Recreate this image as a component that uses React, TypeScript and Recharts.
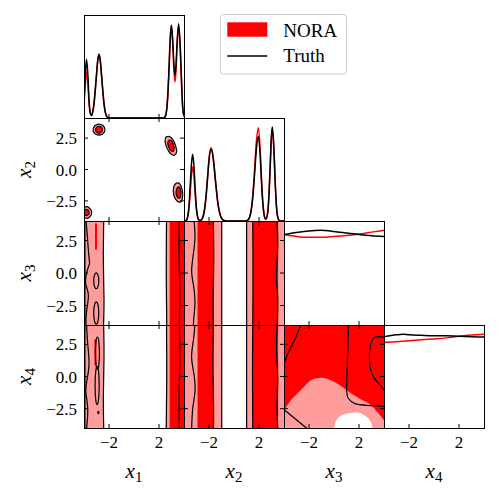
import React from 'react';
import { ComposedChart, Area, Line, XAxis, YAxis, ReferenceLine } from 'recharts';

// axis ranges and ticks
const XLIM: [number, number] = [-4, 4];
const YLIM: [number, number] = [-4, 4];
const Y2_LIM: [number, number] = [-4.1, 4.1];
const PDF_LIM: [number, number] = [0, 1];
const Y_FULL: [number, number] = [-9, 9];
const X_TICKS = [-2, 2];
const Y_TICKS = [-2.5, 0, 2.5];
const PDF_TICKS = [0, 1];
const SUBSCRIPTS = ['1', '2', '3', '4'];

// 1D marginals: [x, NORA, Truth]
const x1Marginal: number[][] = [
  [-4.0, 0.12, 0.15], [-3.9, 0.32, 0.4], [-3.8, 0.45, 0.57], [-3.7, 0.35, 0.44],
  [-3.6, 0.15, 0.18], [-3.5, 0.045, 0.05], [-3.4, 0.025, 0.025], [-3.3, 0.06, 0.06],
  [-3.2, 0.14, 0.14], [-3.1, 0.27, 0.27], [-3.0, 0.42, 0.42], [-2.9, 0.56, 0.56],
  [-2.8, 0.62, 0.618], [-2.7, 0.56, 0.56], [-2.6, 0.42, 0.42], [-2.5, 0.27, 0.27],
  [-2.4, 0.14, 0.14], [-2.3, 0.06, 0.06], [-2.2, 0.02, 0.02], [-2.1, 0.005, 0.005],
  [-1.9, 0, 0], [2.2, 0, 0], [2.4, 0.004, 0.003], [2.5, 0.016, 0.014],
  [2.6, 0.07, 0.065], [2.7, 0.21, 0.21], [2.8, 0.47, 0.48], [2.9, 0.76, 0.78],
  [2.99, 0.9, 0.9], [3.1, 0.72, 0.75], [3.2, 0.46, 0.5], [3.28, 0.35, 0.415],
  [3.35, 0.44, 0.49], [3.45, 0.7, 0.74], [3.57, 0.89, 0.916], [3.7, 0.67, 0.69],
  [3.8, 0.34, 0.37], [3.9, 0.09, 0.1], [4.0, 0.015, 0.02],
];

const x2Marginal: number[][] = [
  [-4.0, 0, 0], [-3.8, 0.008, 0.01], [-3.7, 0.038, 0.047], [-3.6, 0.12, 0.15],
  [-3.5, 0.28, 0.35], [-3.4, 0.45, 0.56], [-3.31, 0.527, 0.648], [-3.2, 0.43, 0.525],
  [-3.1, 0.245, 0.3], [-3.0, 0.1, 0.123], [-2.9, 0.03, 0.036], [-2.8, 0.008, 0.008],
  [-2.7, 0.006, 0.006], [-2.6, 0.013, 0.013], [-2.5, 0.035, 0.035], [-2.4, 0.08, 0.08],
  [-2.3, 0.165, 0.164], [-2.2, 0.29, 0.29], [-2.1, 0.445, 0.44], [-2.0, 0.6, 0.59],
  [-1.84, 0.71, 0.7], [-1.7, 0.65, 0.64], [-1.6, 0.55, 0.54], [-1.5, 0.415, 0.41],
  [-1.4, 0.295, 0.29], [-1.3, 0.185, 0.18], [-1.2, 0.11, 0.107], [-1.1, 0.058, 0.057],
  [-1.0, 0.028, 0.027], [-0.8, 0.005, 0.005], [-0.6, 0, 0], [0.8, 0, 0],
  [1.0, 0.003, 0.003], [1.1, 0.009, 0.008], [1.2, 0.025, 0.023], [1.3, 0.062, 0.056],
  [1.4, 0.13, 0.12], [1.5, 0.25, 0.225], [1.6, 0.41, 0.375], [1.7, 0.61, 0.55],
  [1.8, 0.785, 0.71], [1.95, 0.906, 0.82], [2.1, 0.685, 0.62], [2.2, 0.415, 0.375],
  [2.3, 0.2, 0.18], [2.4, 0.072, 0.065], [2.5, 0.024, 0.022], [2.56, 0.025, 0.018],
  [2.7, 0.083, 0.086], [2.8, 0.253, 0.26], [2.9, 0.536, 0.55], [3.0, 0.82, 0.84],
  [3.07, 0.89, 0.913], [3.2, 0.663, 0.68], [3.3, 0.357, 0.366], [3.4, 0.137, 0.14],
  [3.5, 0.036, 0.037], [3.6, 0.008, 0.008], [3.7, 0.001, 0.001], [4.0, 0, 0],
];

const x3Marginal: number[][] = [
  [-4, 0.87, 0.87], [-3, 0.852, 0.89], [-2, 0.843, 0.905], [-1.1, 0.843, 0.91],
  [0, 0.85, 0.9], [1, 0.86, 0.885], [2, 0.875, 0.87], [3, 0.893, 0.858], [4, 0.91, 0.852],
];

const x4Marginal: number[][] = [
  [-4, 0.833, 0.887], [-3, 0.838, 0.905], [-2.5, 0.842, 0.91], [-2, 0.847, 0.905],
  [-1, 0.857, 0.9], [0, 0.865, 0.896], [1, 0.875, 0.895], [2, 0.89, 0.89],
  [3, 0.902, 0.886], [4, 0.91, 0.884],
];

// x1-x2 blobs: [x1, low x2, high x2]
const blobAOuter = [[-3.27, 3.17, 3.17], [-3.25, 3.04, 3.3], [-3.2, 2.94, 3.4], [-3.05, 2.8, 3.54], [-2.8, 2.73, 3.61], [-2.55, 2.8, 3.54], [-2.4, 2.94, 3.4], [-2.35, 3.04, 3.3], [-2.33, 3.17, 3.17]];
const blobAInner = [[-3.08, 3.17, 3.17], [-3.06, 3.08, 3.26], [-3.0, 2.99, 3.35], [-2.9, 2.92, 3.42], [-2.8, 2.9, 3.44], [-2.7, 2.92, 3.42], [-2.6, 2.99, 3.35], [-2.54, 3.08, 3.26], [-2.52, 3.17, 3.17]];
const blobBOuter = [[2.48, 2.3, 2.3], [2.52, 2.05, 2.5], [2.6, 1.8, 2.6], [2.75, 1.5, 2.64], [2.9, 1.3, 2.58], [3.05, 1.18, 2.45], [3.2, 1.13, 2.22], [3.32, 1.2, 1.92], [3.39, 1.35, 1.65], [3.42, 1.5, 1.5]];
const blobBInner = [[2.7, 2.1, 2.1], [2.74, 1.9, 2.25], [2.82, 1.7, 2.33], [2.92, 1.55, 2.35], [3.02, 1.45, 2.28], [3.12, 1.43, 2.1], [3.19, 1.55, 1.85], [3.22, 1.7, 1.7]];
const blobCOuter = [[3.14, -1.7, -1.7], [3.18, -2.0, -1.4], [3.27, -2.25, -1.2], [3.4, -2.45, -1.08], [3.55, -2.58, -1.07], [3.7, -2.6, -1.2], [3.82, -2.45, -1.5], [3.88, -2.2, -1.8], [3.9, -2.0, -2.0]];
const blobCInner = [[3.36, -1.85, -1.85], [3.4, -2.05, -1.6], [3.48, -2.2, -1.45], [3.58, -2.29, -1.38], [3.67, -2.25, -1.45], [3.73, -2.1, -1.65], [3.76, -1.9, -1.9]];
const blobDOuter = [[-4.0, -3.75, -3.08], [-3.9, -3.86, -2.98], [-3.75, -3.89, -2.96], [-3.6, -3.82, -3.04], [-3.48, -3.7, -3.17], [-3.41, -3.55, -3.3], [-3.38, -3.42, -3.42]];
const blobDInner = [[-3.97, -3.55, -3.3], [-3.9, -3.65, -3.2], [-3.8, -3.68, -3.17], [-3.7, -3.64, -3.22], [-3.62, -3.55, -3.3], [-3.58, -3.42, -3.42]];

// vertical bands [from, to] for x1 and x2 columns
const x1PinkBands = [[-4, -2.42], [2.56, 2.84]];
const x1RedBands = [[-4, -3.85], [2.84, 4]];
const x1x3RedPatches = [[-3.12, -2.96, 1.8, 3.8]];
const x1x4RedPatches = [[-3.16, -3.0, 0.9, 2.9]];
const x2PinkBands = [[-4, -2.93], [-1.65, -0.98], [1.01, 1.5], [3.54, 4]];
const x2RedBands = [[-2.93, -1.65], [1.5, 3.54]];

// Truth contour lines [x, y]
const x1x3TruthLines = [
  [[-3.84, 4.1], [-3.73, 2.8], [-3.6, 1.2], [-3.57, 0.68], [-3.79, 0.02], [-3.85, -0.9], [-3.65, -1.7], [-3.8, -3.0], [-3.84, -4.1]],
  [[-2.42, 4.1], [-2.45, 1], [-2.4, -2], [-2.44, -4.1]],
  [[2.6, 4.1], [2.58, 0], [2.62, -4.1]],
  [[3.63, 4.1], [3.6, 1.5], [3.66, -1], [3.62, -4.1]],
];
const x1x3TruthLoops = [
  [[-3.02, 0.08], [-2.86, -0.12], [-2.8, -0.6], [-2.86, -1.08], [-3.02, -1.28], [-3.18, -1.08], [-3.24, -0.6], [-3.18, -0.12]],
  [[-3.02, -2.13], [-2.86, -2.41], [-2.8, -3.08], [-2.86, -3.75], [-3.02, -4.03], [-3.18, -3.75], [-3.24, -3.08], [-3.18, -2.41]],
];
const x1x4TruthLines = [
  [[-3.8, 4.1], [-3.7, 2.5], [-3.6, 1.0], [-3.75, -0.2], [-3.85, -1.2], [-3.7, -2.5], [-3.8, -4.1]],
  [[-2.43, 4.1], [-2.4, 1.5], [-2.45, -1.5], [-2.42, -4.1]],
  [[2.6, 4.1], [2.62, 0], [2.58, -4.1]],
  [[3.63, 4.1], [3.66, 1], [3.6, -1.5], [3.63, -4.1]],
];
const x1x4TruthLoops = [
  [[-2.93, 3.2], [-2.8, 2.8], [-2.75, 1.82], [-2.8, 0.84], [-2.93, 0.44], [-3.06, 0.84], [-3.11, 1.82], [-3.06, 2.8]],
  [[-2.95, 0.95], [-2.82, 0.47], [-2.77, -0.7], [-2.82, -1.87], [-2.95, -2.35], [-3.08, -1.87], [-3.13, -0.7], [-3.08, 0.47]],
  [[-2.85, -2.66], [-2.78, -2.8], [-2.85, -2.94], [-2.92, -2.8]],
];
const x2x3TruthLines = [
  [[-3.2, 4.1], [-3.12, 2.8], [-3.25, 1.47], [-3.39, 0.15], [-3.25, -0.9], [-3.12, -2.2], [-3.2, -3.29], [-3.25, -4.1]],
  [[-1.65, 4.1], [-1.62, 1], [-1.67, -2], [-1.65, -4.1]],
  [[-0.98, 4.1], [-0.98, -4.1]],
  [[1.01, 4.1], [1.01, -4.1]],
  [[1.5, 4.1], [1.52, 0], [1.5, -4.1]],
  [[3.42, 4.1], [3.5, 2.5], [3.45, 1], [3.4, -0.5], [3.5, -2], [3.46, -4.1]],
];
const x2x4TruthLines = [
  [[-3.12, 4.1], [-3.25, 2.81], [-3.39, 1.49], [-3.2, 0.16], [-3.12, -1.16], [-3.3, -2.48], [-3.39, -4.1]],
  [[-1.65, 4.1], [-1.68, 0.5], [-1.63, -2.5], [-1.65, -4.1]],
  [[-0.98, 4.1], [-0.98, -4.1]],
  [[1.01, 4.1], [1.01, -4.1]],
  [[1.5, 4.1], [1.48, 0], [1.5, -4.1]],
  [[3.46, 4.1], [3.4, 2], [3.5, 0], [3.45, -2], [3.5, -4.1]],
];

// x3-x4 panel: NORA level boundaries [x3, upper x4] and Truth lines
const x3x4PinkTop = [[-4, -2.64], [-3.5, -1.9], [-3, -1.4], [-2.5, -0.9], [-2, -0.4], [-1.5, -0.15], [-1, -0.1], [-0.5, -0.2], [0, -0.4], [0.5, -0.7], [1, -1.05], [1.5, -1.4], [2, -1.68], [2.5, -1.95], [3, -2.25], [3.5, -2.8], [4, -3.4]];
const x3x4WhiteTop = [[0, -4.1], [0.1, -3.6], [0.35, -3.22], [0.6, -3.02], [1.01, -2.9], [1.4, -2.82], [1.81, -2.8], [2.2, -2.88], [2.48, -3.04], [2.7, -3.2], [2.88, -3.43], [3.0, -3.65], [3.1, -4.1]];
const x3x4TruthLines = [
  [[-2.59, 4.1], [-3.25, 2.65], [-3.78, 1.59], [-4.0, 0.93]],
  [[1.15, 4.1], [1.1, 1.86], [1.01, -0.79], [1.15, -1.71], [1.68, -2.11], [2.61, -2.24], [4.0, -2.32]],
  [[4.0, 3.05], [3.28, 3.05], [2.94, 2.52], [2.83, 1.59], [3.01, 0.27], [3.55, -0.52], [4.0, -1.05]],
  [[-4.0, -2.58], [-3.25, -3.17], [-2.18, -4.02]],
];

// layout
const COL_LEFT = [84, 184, 284, 384];
const ROW_EDGES = [15, 118, 221, 325, 428];
const PANEL_W = 100;
const PAD = 2;
const TICK_PX = 4;

const RED = '#ff0000';
const PINK = '#ff9c9c';
const INK = '#000000';
const FONT = '"Liberation Serif", "Times New Roman", serif';

const fmtX = (v: number) => String(v).replace('-', '\u2212');
const fmtY = (v: number) => v.toFixed(1).replace('-', '\u2212');

const xLabel = (show: boolean) => (p: any) =>
  show ? (
    <text x={p.x} y={p.y + 19.5} textAnchor="middle" fontFamily={FONT} fontSize={17} fill={INK}>
      {fmtX(p.payload.value)}
    </text>
  ) : (
    <g />
  );

const yLabel = (show: boolean) => (p: any) =>
  show ? (
    <text x={p.x - 7} y={p.y} dy="0.36em" textAnchor="end" fontFamily={FONT} fontSize={17} fill={INK}>
      {fmtY(p.payload.value)}
    </text>
  ) : (
    <g />
  );

const toPts = (a: number[][]) => a.map(([x, y]) => ({ x, y }));
const toRange = (a: number[][]) => a.map(([x, lo, hi]) => ({ x, r: [lo, hi] }));
const bandData = (b: number[]) => [{ x: b[0], r: Y_FULL }, { x: b[1], r: Y_FULL }];
const patchData = (p: number[]) => [{ x: p[0], r: [p[2], p[3]] }, { x: p[1], r: [p[2], p[3]] }];

const areaEl = (key: string, data: any[], fill: string, stroke = 'none', type: any = 'linear') => (
  <Area key={key} data={data} dataKey="r" type={type} fill={fill} fillOpacity={1} stroke={stroke}
    strokeWidth={1.2} dot={false} activeDot={false} isAnimationActive={false} />
);
const lineEl = (key: string, data: any[], stroke: string, width: number, type: any) => (
  <Line key={key} data={data} dataKey="y" type={type} stroke={stroke} strokeWidth={width}
    dot={false} activeDot={false} isAnimationActive={false} />
);

// inward tick marks, placed through the chart's own scales as short reference segments
const tickMarks = (yDom: [number, number], h: number, diag: boolean) => {
  const dx = (TICK_PX / PANEL_W) * (XLIM[1] - XLIM[0]);
  const dy = (TICK_PX / h) * (yDom[1] - yDom[0]);
  const seg = (key: string, a: { x: number; y: number }, b: { x: number; y: number }) => (
    <ReferenceLine key={key} segment={[a, b]} stroke={INK} strokeWidth={1} ifOverflow="visible" />
  );
  const out = X_TICKS.map((t) => seg(`tb${t}`, { x: t, y: yDom[0] }, { x: t, y: yDom[0] + dy }));
  if (diag) return out;
  return [
    ...out,
    ...X_TICKS.map((t) => seg(`tt${t}`, { x: t, y: yDom[1] }, { x: t, y: yDom[1] - dy })),
    ...Y_TICKS.map((t) => seg(`tl${t}`, { x: XLIM[0], y: t }, { x: XLIM[0] + dx, y: t })),
    ...Y_TICKS.map((t) => seg(`tr${t}`, { x: XLIM[1], y: t }, { x: XLIM[1] - dx, y: t })),
  ];
};

const marginalSeries = (m: number[][], id: string) => [
  lineEl(id + '-nora', m.map((r) => ({ x: r[0], y: r[1] })), RED, 1.5, 'monotone'),
  lineEl(id + '-truth', m.map((r) => ({ x: r[0], y: r[2] })), INK, 1.5, 'monotone'),
];

const stripSeries = (id: string, pink: number[][], red: number[][], patches: number[][], lines: number[][][], loops: number[][][]) => [
  ...pink.map((b, i) => areaEl(`${id}-p${i}`, bandData(b), PINK)),
  ...red.map((b, i) => areaEl(`${id}-r${i}`, bandData(b), RED)),
  ...patches.map((p, i) => areaEl(`${id}-q${i}`, patchData(p), RED)),
  ...lines.map((l, i) => lineEl(`${id}-l${i}`, toPts(l), INK, 1.2, 'natural')),
  ...loops.map((l, i) => lineEl(`${id}-o${i}`, toPts(l), INK, 1.2, 'basisClosed')),
];

const blobSeries = () =>
  [
    [blobAOuter, blobAInner],
    [blobBOuter, blobBInner],
    [blobCOuter, blobCInner],
    [blobDOuter, blobDInner],
  ].flatMap(([outer, inner], i) => [
    areaEl(`b${i}o`, toRange(outer), PINK, INK, 'monotone'),
    areaEl(`b${i}i`, toRange(inner), RED, INK, 'monotone'),
  ]);

const x3x4Series = () => [
  areaEl('x34-base', bandData(XLIM), RED),
  areaEl('x34-pink', x3x4PinkTop.map(([x, y]) => ({ x, r: [Y_FULL[0], y] })), PINK, 'none', 'monotone'),
  areaEl('x34-white', x3x4WhiteTop.map(([x, y]) => ({ x, r: [Y_FULL[0], y] })), '#ffffff', 'none', 'monotone'),
  ...x3x4TruthLines.map((l, i) => lineEl(`x34-l${i}`, toPts(l), INK, 1.2, 'natural')),
];

function Panel({ row, col, diag = false, children }: { row: number; col: number; diag?: boolean; children: React.ReactNode }) {
  const showX = row === 3;
  const showY = col === 0 && row > 0;
  const top = ROW_EDGES[row];
  const h = ROW_EDGES[row + 1] - top;
  const axH = showX ? 30 : 0;
  const axW = showY ? 50 : 0;
  const yDomain = diag ? PDF_LIM : row === 1 ? Y2_LIM : YLIM;
  return (
    <div style={{ position: 'absolute', left: COL_LEFT[col] - PAD - axW, top: top - PAD }}>
      <ComposedChart width={PANEL_W + 2 * PAD + axW} height={h + 2 * PAD + axH}
        margin={{ top: PAD, right: PAD, bottom: PAD, left: PAD }}>
        {children}
        {tickMarks(yDomain, h, diag)}
        <XAxis type="number" dataKey="x" domain={XLIM} allowDataOverflow ticks={X_TICKS} interval={0}
          height={axH} tickSize={0} tickMargin={0} tickLine={false} axisLine={false} tick={xLabel(showX)} />
        <YAxis type="number" domain={yDomain} allowDataOverflow ticks={diag ? PDF_TICKS : Y_TICKS} interval={0}
          width={axW} tickSize={0} tickMargin={0} tickLine={false} axisLine={false}
          tick={diag ? false : yLabel(showY)} />
      </ComposedChart>
    </div>
  );
}

const PANELS = [[0, 0], [1, 0], [1, 1], [2, 0], [2, 1], [2, 2], [3, 0], [3, 1], [3, 2], [3, 3]];

function Overlay() {
  return (
    <svg width={498} height={498} style={{ position: 'absolute', left: 0, top: 0, pointerEvents: 'none' }}>
      {PANELS.map(([r, c]) => (
        <rect key={`f${r}${c}`} x={COL_LEFT[c] + 0.5} y={ROW_EDGES[r] + 0.5} width={PANEL_W}
          height={ROW_EDGES[r + 1] - ROW_EDGES[r]} fill="none" stroke={INK} strokeWidth={1} />
      ))}
      {SUBSCRIPTS.map((s, i) => (
        <text key={'bx' + s} x={COL_LEFT[i] + PANEL_W / 2} y={478} textAnchor="middle" fontFamily={FONT} fill={INK}>
          <tspan fontStyle="italic" fontSize={21}>x</tspan>
          <tspan fontSize={15} dy={4}>{s}</tspan>
        </text>
      ))}
      {SUBSCRIPTS.slice(1).map((s, i) => {
        const cy = (ROW_EDGES[i + 1] + ROW_EDGES[i + 2]) / 2;
        return (
          <text key={'ly' + s} x={30.5} y={cy} transform={`rotate(-90, 30.5, ${cy})`} textAnchor="middle"
            fontFamily={FONT} fill={INK}>
            <tspan fontStyle="italic" fontSize={21}>x</tspan>
            <tspan fontSize={15} dy={4}>{s}</tspan>
          </text>
        );
      })}
      <g>
        <rect x={220.5} y={14.5} width={126} height={59.5} rx={3} fill="#ffffff" fillOpacity={0.8} stroke="#cccccc" />
        <rect x={227.3} y={22.3} width={40} height={14.4} fill={RED} />
        <text x={283.3} y={36.7} fontFamily={FONT} fontSize={19} fill={INK}>NORA</text>
        <line x1={227.3} x2={267.3} y1={56} y2={56} stroke={INK} strokeWidth={1.5} />
        <text x={283.3} y={62.3} fontFamily={FONT} fontSize={19} fill={INK}>Truth</text>
      </g>
    </svg>
  );
}

export default function App() {
  return (
    <div style={{ position: 'absolute', left: 0, top: 0, width: 498, height: 498, background: '#ffffff' }}>
      <Panel row={0} col={0} diag>{marginalSeries(x1Marginal, 'm1')}</Panel>
      <Panel row={1} col={0}>{blobSeries()}</Panel>
      <Panel row={1} col={1} diag>{marginalSeries(x2Marginal, 'm2')}</Panel>
      <Panel row={2} col={0}>{stripSeries('s13', x1PinkBands, x1RedBands, x1x3RedPatches, x1x3TruthLines, x1x3TruthLoops)}</Panel>
      <Panel row={2} col={1}>{stripSeries('s23', x2PinkBands, x2RedBands, [], x2x3TruthLines, [])}</Panel>
      <Panel row={2} col={2} diag>{marginalSeries(x3Marginal, 'm3')}</Panel>
      <Panel row={3} col={0}>{stripSeries('s14', x1PinkBands, x1RedBands, x1x4RedPatches, x1x4TruthLines, x1x4TruthLoops)}</Panel>
      <Panel row={3} col={1}>{stripSeries('s24', x2PinkBands, x2RedBands, [], x2x4TruthLines, [])}</Panel>
      <Panel row={3} col={2}>{x3x4Series()}</Panel>
      <Panel row={3} col={3} diag>{marginalSeries(x4Marginal, 'm4')}</Panel>
      <Overlay />
    </div>
  );
}
